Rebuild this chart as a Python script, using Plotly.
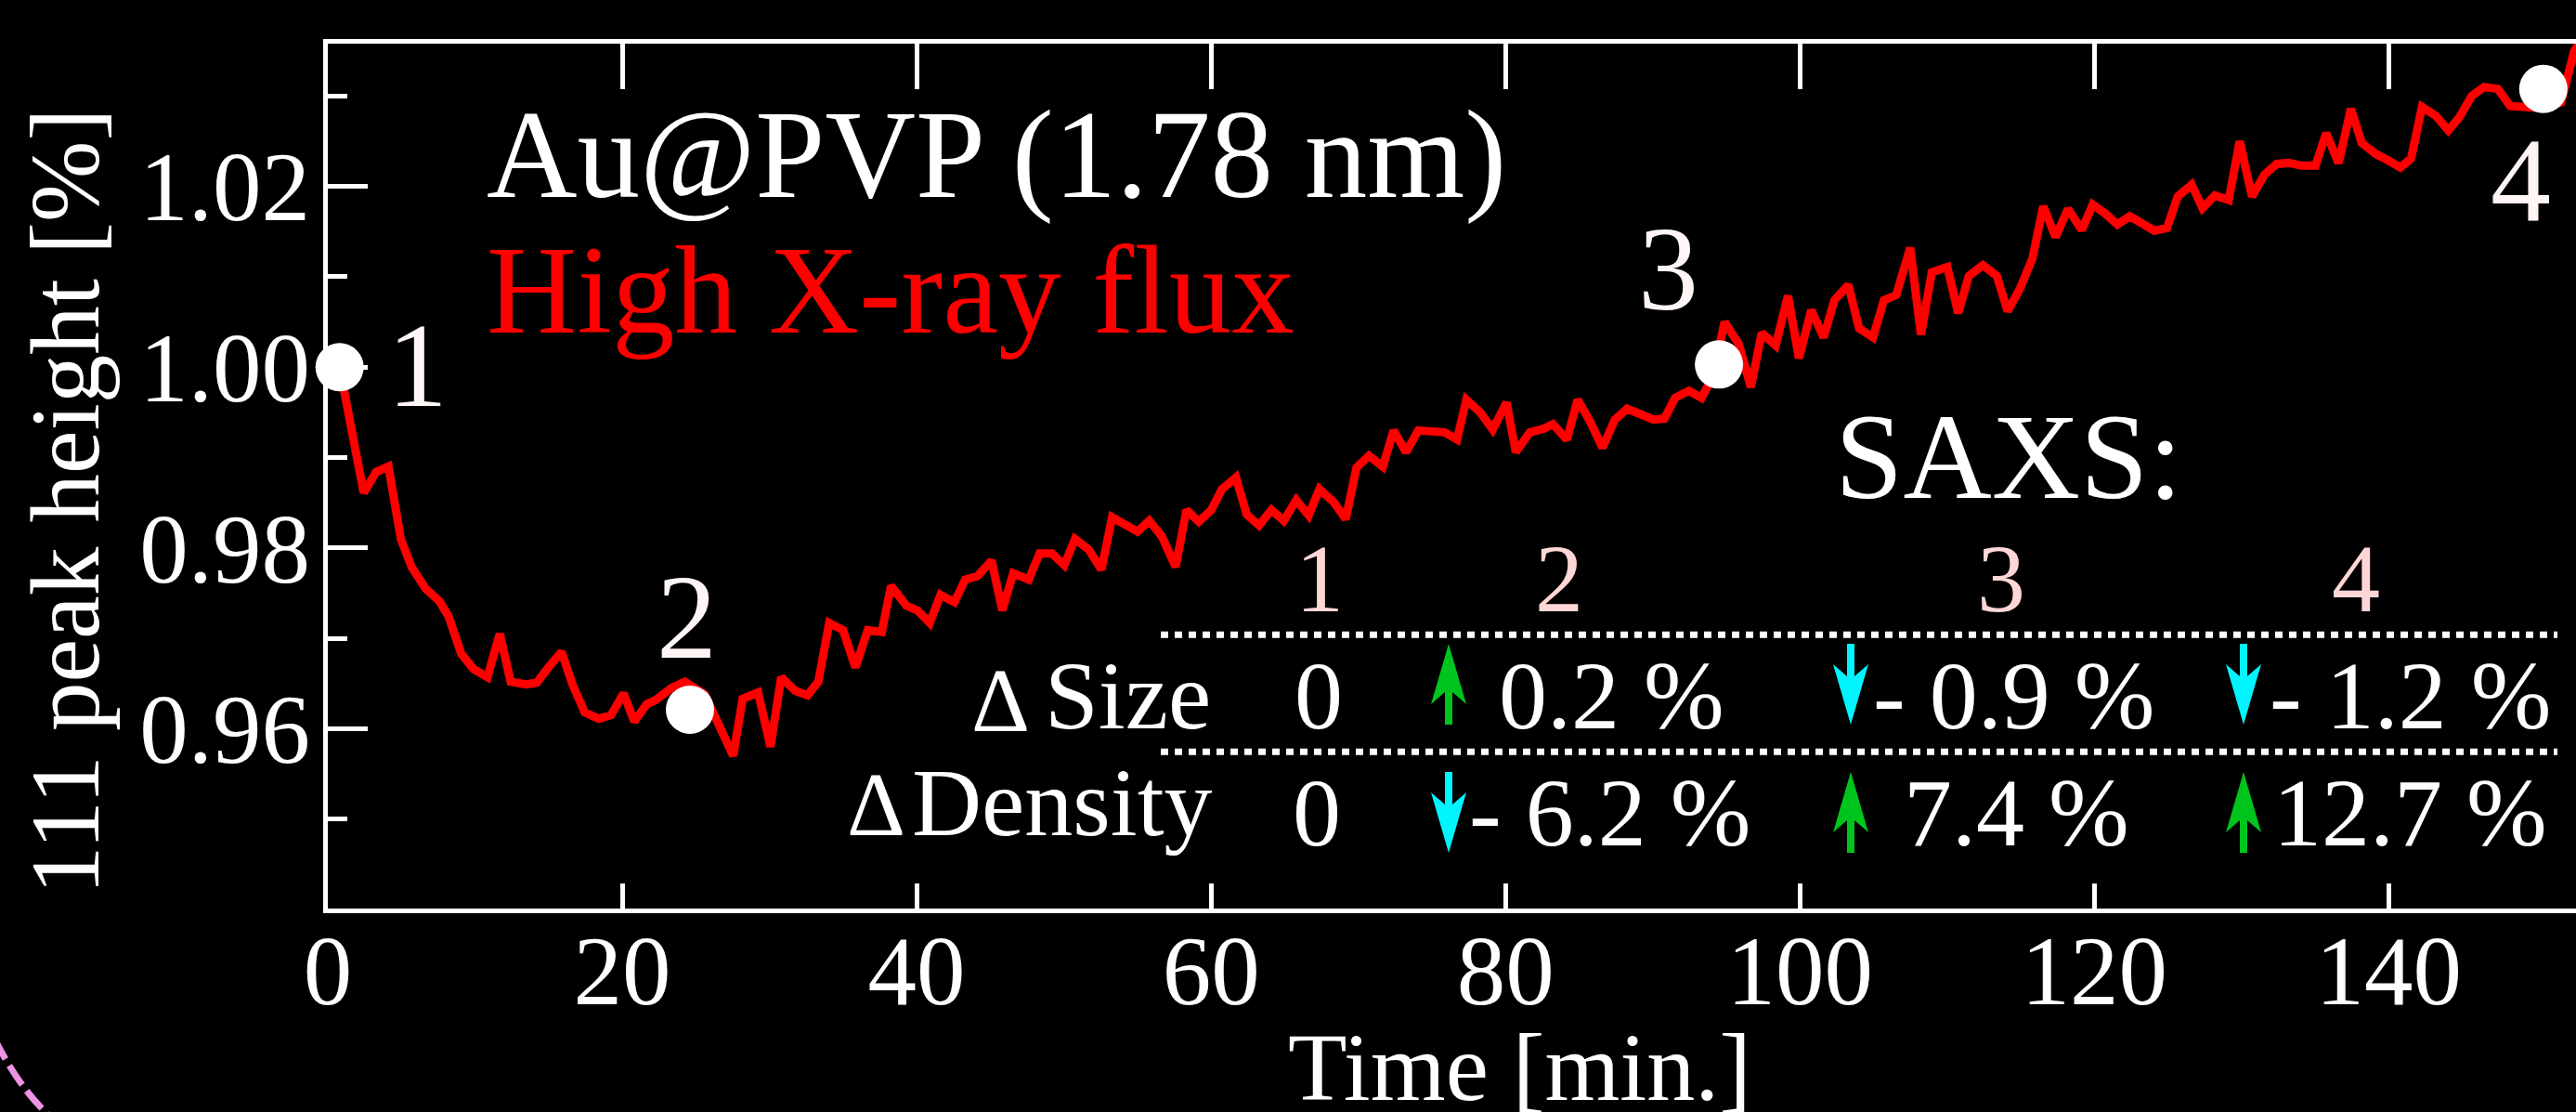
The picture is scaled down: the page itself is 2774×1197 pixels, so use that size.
import plotly.graph_objects as go

# ---------------- data ----------------
time_min = [0.8, 2.44, 3.28, 4.12, 4.96, 5.69, 6.64, 7.58, 8.21, 9.06, 9.90, 10.84, 11.68, 12.42,
            13.47, 14.20, 15.04, 15.88, 16.62, 17.46, 18.40, 19.24, 20.09, 20.82, 21.66, 22.29,
            23.34, 24.25, 25.6, 27.54, 28.18, 29.23, 30.07, 30.80, 31.75, 32.59, 33.32, 34.06,
            35.00, 35.84, 36.68, 37.63, 38.26, 39.31, 40.05, 40.89, 41.62, 42.57, 43.30, 44.14,
            45.09, 45.82, 46.56, 47.61, 48.35, 49.18, 50.03, 50.76, 51.70, 52.55, 53.28, 54.23,
            55.0, 55.80, 56.65, 57.59, 58.33, 59.17, 60.01, 60.74, 61.69, 62.42, 63.26, 64.10,
            64.94, 65.79, 66.63, 67.36, 68.31, 69.15, 69.88, 70.72, 71.67, 72.40, 73.24, 74.08,
            75.03, 75.87, 76.71, 77.34, 78.29, 79.13, 80.07, 80.70, 81.65, 82.60, 83.22, 84.17,
            84.90, 85.74, 86.59, 87.43, 88.26, 89.11, 90.05, 90.79, 91.52, 92.47, 93.31, 94.10,
            94.88, 95.83, 96.67, 97.41, 98.35, 99.19, 99.93, 100.77, 101.61, 102.34, 103.29,
            104.02, 104.97, 105.70, 106.54, 107.49, 108.22, 108.96, 110.01, 110.75, 111.48,
            112.43, 113.37, 114.11, 114.95, 115.79, 116.53, 117.37, 118.21, 119.15, 119.89,
            120.73, 121.57, 122.41, 123.25, 124.09, 124.93, 125.67, 126.61, 127.35, 128.19,
            129.13, 129.87, 130.71, 131.55, 132.39, 133.23, 134.07, 135.02, 135.75, 136.59,
            137.43, 138.17, 139.11, 139.95, 140.79, 141.52, 142.26, 143.21, 144.05, 144.78,
            145.63, 146.47, 147.41, 148.25, 149.09, 150.0, 150.9, 151.7, 152.6, 153.4]

peak_height = [1.0000, 0.9861, 0.9884, 0.9890, 0.9810, 0.9779, 0.9755, 0.9741, 0.9724, 0.9683,
               0.9666, 0.9657, 0.9705, 0.9652, 0.9649, 0.9651, 0.9669, 0.9685, 0.9649, 0.9618,
               0.9611, 0.9615, 0.9639, 0.9608, 0.9627, 0.9632, 0.9645, 0.9652, 0.9638, 0.9570,
               0.9633, 0.9640, 0.9580, 0.9657, 0.9642, 0.9637, 0.9652, 0.9717, 0.9709, 0.9668,
               0.9709, 0.9707, 0.9758, 0.9736, 0.9731, 0.9717, 0.9748, 0.9740, 0.9765, 0.9769,
               0.9786, 0.9731, 0.9772, 0.9765, 0.9794, 0.9794, 0.9781, 0.9810, 0.9798, 0.9776,
               0.9834, 0.9824, 0.9818, 0.9830, 0.9813, 0.9779, 0.9842, 0.9829, 0.9842, 0.9865,
               0.9878, 0.9837, 0.9825, 0.9842, 0.9830, 0.9853, 0.9836, 0.9865, 0.9851, 0.9832,
               0.9889, 0.9902, 0.9890, 0.9930, 0.9906, 0.9930, 0.9930, 0.9928, 0.9920, 0.9964,
               0.9950, 0.9931, 0.9961, 0.9906, 0.9928, 0.9932, 0.9937, 0.9920, 0.9964, 0.9940,
               0.9911, 0.9942, 0.9954, 0.9949, 0.9942, 0.9943, 0.9966, 0.9974, 0.9966, 0.9990,
               1.0050, 1.0026, 0.9978, 1.0038, 1.0024, 1.0079, 1.0010, 1.0063, 1.0033, 1.0074,
               1.0091, 1.0043, 1.0033, 1.0074, 1.0080, 1.0132, 1.0036, 1.0105, 1.0111, 1.0060,
               1.0101, 1.0113, 1.0101, 1.0062, 1.0087, 1.0120, 1.0178, 1.0144, 1.0175, 1.0152,
               1.0180, 1.0170, 1.0158, 1.0167, 1.0158, 1.0151, 1.0154, 1.0189, 1.0202, 1.0176,
               1.0190, 1.0185, 1.0250, 1.0189, 1.0213, 1.0225, 1.0226, 1.0223, 1.0223, 1.0259,
               1.0226, 1.0286, 1.0248, 1.0236, 1.0229, 1.0221, 1.0231, 1.0288, 1.0278, 1.0262,
               1.0276, 1.0300, 1.0310, 1.0308, 1.0289, 1.0288, 1.0287, 1.0290, 1.0293, 1.0350,
               1.0370]

saxs_time = [0.8, 24.6, 94.5, 150.5]
saxs_height = [1.000, 0.9621, 1.0003, 1.0308]
saxs_labels = ["1", "2", "3", "4"]

size_change = ["0", "0.2 %", "- 0.9 %", "- 1.2 %"]
density_change = ["0", "- 6.2 %", "7.4 %", "12.7 %"]
size_trend = [None, "up", "down", "down"]
density_trend = [None, "down", "up", "up"]

x_ticks = [0, 20, 40, 60, 80, 100, 120, 140]

# ---------------- layout geometry ----------------
W, H = 2774, 1197
L, R, T, B = 353, 0, 47, 219
PW, PH = W - L - R, H - T - B
XR = [0.0, 152.72]
YR = [0.9401, 1.0358]
FONT = "'Liberation Serif', 'Times New Roman', Tinos, Times, serif"
WHITE = "#ffffff"
LBL = "#fff5f5"
PINK = "#ffd6d6"
GREEN = "#00c41e"
CYAN = "#00f5ff"


def px(x):
    return (x - L) / PW


def py(y):
    return (H - B - y) / PH


def text(s, x, baseline, size, color=WHITE, anchor="left"):
    return dict(text=s, xref="paper", yref="paper", x=px(x), y=py(baseline - 0.3375 * size),
                xanchor=anchor, yanchor="middle", showarrow=False,
                font=dict(family=FONT, size=size, color=color))


fig = go.Figure()
fig.add_trace(go.Scatter(x=time_min, y=peak_height, mode="lines",
                         line=dict(color="#ff0000", width=9), hoverinfo="skip"))
fig.add_trace(go.Scatter(x=saxs_time, y=saxs_height, mode="markers", xaxis="x2",
                         marker=dict(size=52, color=WHITE, line=dict(width=0)),
                         cliponaxis=False, hoverinfo="skip"))

annotations = []
annotations.append(text("Au@PVP (1.78 nm)", 522, 212, 135, WHITE))
annotations.append(text("High X-ray flux", 522, 358, 135, "#ff0000"))

# point labels next to the SAXS markers
label_pos = [(449, 437), (739, 708), (1796, 333), (2714, 238)]
for s, (lx, lb) in zip(saxs_labels, label_pos):
    annotations.append(text(s, lx, lb, 130, LBL, "center"))

# SAXS table
annotations.append(text("SAXS:", 2163, 536, 132, WHITE, "center"))
head_x = [1421, 1679, 2155, 2537]
for s, hx in zip(saxs_labels, head_x):
    annotations.append(text(s, hx, 658, 104, PINK, "center"))

annotations.append(text("Δ", 1077, 787, 98, WHITE, "center"))
annotations.append(text("Size", 1123, 784, 104, WHITE, "left"))
annotations.append(text("Δ", 943, 899, 98, WHITE, "center"))
annotations.append(text("Density", 980, 899, 104, WHITE, "left"))

size_left = [None, 1612, 2015, 2442]
dens_left = [None, 1580, 2048, 2446]
annotations.append(text(size_change[0], 1420, 784, 104, WHITE, "center"))
annotations.append(text(density_change[0], 1418, 910, 104, WHITE, "center"))
for i in range(1, 4):
    annotations.append(text(size_change[i], size_left[i], 784, 104, WHITE, "left"))
    annotations.append(text(density_change[i], dens_left[i], 910, 104, WHITE, "left"))

# axis titles
annotations.append(text("Time [min.]", 1636, 1184, 104, WHITE, "center"))
annotations.append(dict(text="111 peak height [%]", xref="paper", yref="paper",
                        x=px(70), y=py(540), xanchor="center", yanchor="middle",
                        textangle=-90, showarrow=False,
                        font=dict(family=FONT, size=105, color=WHITE)))

shapes = []
# dotted separators
for yy in (683.3, 809.3):
    shapes.append(dict(type="line", xref="paper", yref="paper",
                       x0=px(1250), x1=px(2754), y0=py(yy), y1=py(yy),
                       line=dict(color=WHITE, width=7, dash="8px,7px")))


def arrow(cx, top, bottom, direction, color):
    pts = [(0, 0), (19, 65), (4, 52), (4, 87), (-4, 87), (-4, 52), (-19, 65)]
    if direction == "up":
        coords = [(cx + dx, top + dy) for dx, dy in pts]
    else:
        coords = [(cx + dx, bottom - dy) for dx, dy in pts]
    path = "M " + " L ".join(f"{px(a):.6f},{py(b):.6f}" for a, b in coords) + " Z"
    return dict(type="path", xref="paper", yref="paper", path=path,
                fillcolor=color, line=dict(width=0))


arrow_x = [None, 1560, 1993, 2416]
for i in range(1, 4):
    c = GREEN if size_trend[i] == "up" else CYAN
    shapes.append(arrow(arrow_x[i], 693, 780, size_trend[i], c))
    c = GREEN if density_trend[i] == "up" else CYAN
    shapes.append(arrow(arrow_x[i], 831, 918, density_trend[i], c))

# pink dashed arc fragment (bottom-left corner)
shapes.append(dict(type="path", xref="paper", yref="paper",
                   path=f"M {px(-6):.6f},{py(1118):.6f} Q {px(20):.6f},{py(1170):.6f} {px(52):.6f},{py(1200):.6f}",
                   line=dict(color="#ee92e4", width=7, dash="25px,8px")))

axis_common = dict(showgrid=False, zeroline=False, showline=True, linecolor=WHITE,
                   linewidth=5, tickcolor=WHITE, ticks="inside")

fig.update_layout(
    width=W, height=H,
    margin=dict(l=L, r=R, t=T, b=B, pad=0),
    paper_bgcolor="black", plot_bgcolor="black",
    showlegend=False,
    font=dict(family=FONT),
    xaxis=dict(range=XR, tickmode="array", tickvals=x_ticks, ticklen=27, tickwidth=4.5,
               tickfont=dict(family=FONT, size=105, color=WHITE), ticklabelstandoff=-28,
               **axis_common),
    xaxis2=dict(range=XR, overlaying="x", side="top", anchor="y", tickmode="array",
                tickvals=x_ticks, ticklen=49, tickwidth=4.5, showticklabels=False,
                **axis_common),
    yaxis=dict(range=YR, tickmode="linear", tick0=0.96, dtick=0.02, tickformat=".2f",
               ticklen=43, tickwidth=5, ticklabelstandoff=-7,
               tickfont=dict(family=FONT, size=105, color=WHITE),
               minor=dict(ticks="inside", tick0=0.95, dtick=0.01, ticklen=21,
                          tickwidth=5, tickcolor=WHITE),
               **axis_common),
    annotations=annotations,
    shapes=shapes,
)

fig.write_html("out.html", config={"displayModeBar": False})
